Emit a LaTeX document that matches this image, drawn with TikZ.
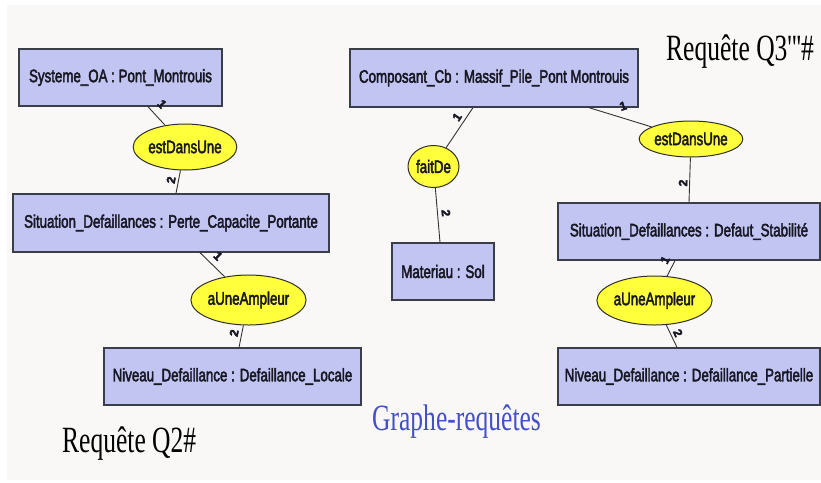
\documentclass[tikz,border=0pt]{standalone}
\usepackage{fontspec}
\usetikzlibrary{shapes.geometric}
\newfontfamily\boxfont{Liberation Sans}[RawFeature={embolden=3}]
\newfontfamily\cardfont{Liberation Sans}[RawFeature={embolden=3}]
\newfontfamily\serfont{Liberation Serif}[Ligatures=TeXOff]
\newcommand\sqz[1]{\scalebox{0.74}[1]{#1}}
\newcommand\sqs[1]{\scalebox{0.69}[1]{#1}}
\definecolor{boxfill}{RGB}{194,197,242}
\definecolor{boxline}{RGB}{58,62,72}
\definecolor{relfill}{RGB}{255,255,60}
\definecolor{relline}{RGB}{50,48,40}
\definecolor{txt}{RGB}{24,24,36}
\definecolor{bgcol}{RGB}{249,248,247}
\definecolor{titleblue}{RGB}{68,80,200}
\tikzset{
  obj/.style={rectangle, draw=boxline, fill=boxfill, line width=1.3pt, inner sep=0pt,
    text=txt, font=\boxfont\fontsize{18}{20}\selectfont},
  rel/.style={ellipse, draw=relline, fill=relfill, line width=1pt, inner sep=0pt,
    text=txt, font=\boxfont\fontsize{18}{20}\selectfont},
  conn/.style={draw=black!80, line width=0.9pt},
  card/.style={inner sep=0pt, text=txt, font=\cardfont\bfseries\fontsize{12}{12}\selectfont},
  title/.style={anchor=base west, inner sep=0pt, text=black, font=\serfont\fontsize{37}{40}\selectfont}
}
\begin{document}
\begin{tikzpicture}[x=1pt,y=-1pt]
\useasboundingbox (0,0) rectangle (821,482);
\fill[white] (0,0) rectangle (821,482);
\fill[bgcol] (7,5) rectangle (821,480);

% left graph
\node[obj, minimum width=203pt, minimum height=57pt] (so) at (120.5,77.5) {\sqz{Systeme\_OA : Pont\_Montrouis}};
\node[obj, minimum width=316pt, minimum height=58pt] (sd1) at (171,223) {\sqz{Situation\_Defaillances : Perte\_Capacite\_Portante}};
\node[obj, minimum width=257pt, minimum height=57pt] (nd1) at (232.5,376.5) {\sqz{Niveau\_Defaillance : Defaillance\_Locale}};
\node[rel, minimum width=86pt, minimum height=46pt] (e1) at (185,147) {\sqz{estDansUne}};
\node[rel, minimum width=97pt, minimum height=50pt] (e2) at (248.5,300) {\sqz{aUneAmpleur}};

% right graph
\node[obj, minimum width=288pt, minimum height=58pt] (cc) at (494,78) {\sqz{Composant\_Cb : Massif\_Pile\_Pont Montrouis}};
\node[obj, minimum width=102pt, minimum height=57pt] (ma) at (443,271.5) {\sqz{Materiau : Sol}};
\node[obj, minimum width=262pt, minimum height=57pt] (sd2) at (689,231.5) {\sqz{Situation\_Defaillances : Defaut\_Stabilité}};
\node[obj, minimum width=262pt, minimum height=57pt] (nd2) at (689,376.5) {\sqz{Niveau\_Defaillance : Defaillance\_Partielle}};
\node[rel, minimum width=51pt, minimum height=42pt] (e3) at (433.5,166.5) {\sqz{faitDe}};
\node[rel, minimum width=86pt, minimum height=36pt] (e4) at (691,139) {\sqz{estDansUne}};
\node[rel, minimum width=97pt, minimum height=49pt] (e5) at (654.5,300.5) {\sqz{aUneAmpleur}};

% connectors
\draw[conn] (e1) -- ([xshift=27.5pt]so.south);
\draw[conn] (e1) -- ([xshift=5pt]sd1.north);
\draw[conn] (e2) -- ([xshift=29pt]sd1.south);
\draw[conn] (e2) -- ([xshift=6.5pt]nd1.north);
\draw[conn] (e3) -- ([xshift=-21pt]cc.south);
\draw[conn] (e3) -- ([xshift=-3pt]ma.north);
\draw[conn] (e4) -- ([xshift=95pt]cc.south);
\draw[conn] (e4) -- (sd2.north);
\draw[conn] (e5) -- ([xshift=-14pt]sd2.south);
\draw[conn] (e5) -- ([xshift=-12pt]nd2.north);

% cardinalities
\node[card, rotate=-48] (c1) at (162,104) {1};
\node[card, rotate=80] (c2) at (171,180) {2};
\node[card, rotate=-45] (c3) at (218,256) {1};
\node[card, rotate=79] (c4) at (234,333) {2};
\node[card, rotate=56] (c5) at (457,117) {1};
\node[card, rotate=-85] (c6) at (446,213) {2};
\node[card, rotate=17] (c7) at (623,106) {1};
\node[card, rotate=88] (c8) at (683,183) {2};
\node[card, rotate=63] (c9) at (665,260) {1};
\node[card, rotate=-65] (c10) at (678,333) {2};

% titles
\node[title] (q3) at (666,60) {\sqs{Requête Q3'''\#}};
\node[title] (q2) at (62,452) {\sqs{Requête Q2\#}};
\node[title, text=titleblue] (gr) at (372,430) {\sqs{Graphe-requêtes}};
\end{tikzpicture}
\end{document}
